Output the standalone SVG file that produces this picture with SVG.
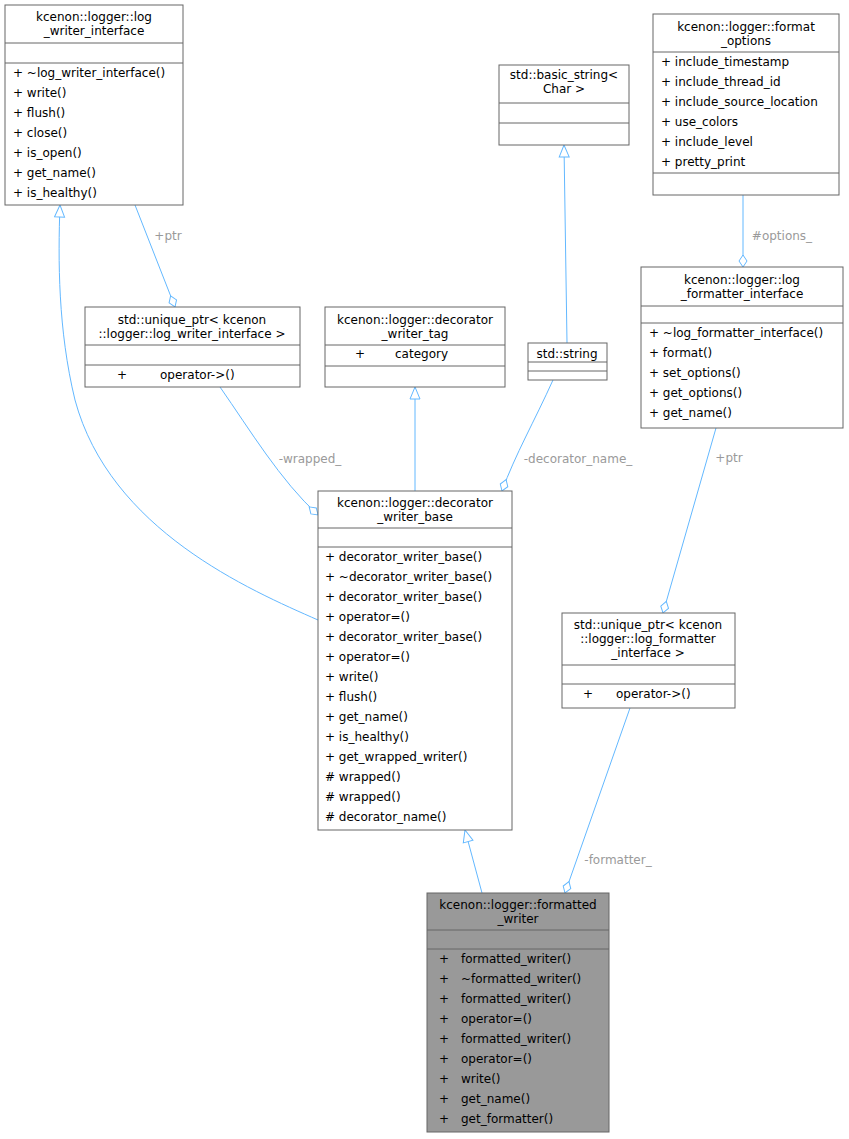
<svg xmlns="http://www.w3.org/2000/svg" width="849" height="1139" viewBox="0 0 849 1139">
<style>
text{font-family:"DejaVu Sans",sans-serif;font-size:12px;fill:#000}
.c{text-anchor:middle}
.lb{fill:#9a9a9a;text-anchor:middle}
.box{fill:#fff;stroke:#666;stroke-width:1}
.sep{stroke:#666;stroke-width:1}
.e{fill:none;stroke:#63b8ff;stroke-width:1}
</style>
<defs>
<marker id="tri" markerUnits="userSpaceOnUse" markerWidth="14" markerHeight="12" refX="13" refY="6" orient="auto"><path d="M1,1 L13,6 L1,11 Z" fill="#fff" stroke="#63b8ff"/></marker>
<marker id="dia" markerUnits="userSpaceOnUse" markerWidth="14" markerHeight="10" refX="13" refY="5" orient="auto"><path d="M1,5 L7,1 L13,5 L7,9 Z" fill="#fff" stroke="#63b8ff"/></marker>
</defs>
<rect width="849" height="1139" fill="#fff"/>
<g id="edges">
<path class="e" d="M318,620 C250,590 110,530 75,400 C58,330 58,260 60,205" marker-end="url(#tri)"/>
<path class="e" d="M135,205 L175,307" marker-end="url(#dia)"/><text class="lb" x="168" y="240">+ptr</text>
<path class="e" d="M415,491 L415,387" marker-end="url(#tri)"/>
<path class="e" d="M567,343 L564,145" marker-end="url(#tri)"/>
<path class="e" d="M743,195 L743,267" marker-end="url(#dia)"/><text class="lb" x="782" y="240">#options_</text>
<path class="e" d="M220,387 C250,430 280,480 318,515" marker-end="url(#dia)"/><text class="lb" x="310" y="463">-wrapped_</text>
<path class="e" d="M553,380 C535,420 515,455 502,491" marker-end="url(#dia)"/><text class="lb" x="578" y="463">-decorator_name_</text>
<path class="e" d="M716,428 L663,613" marker-end="url(#dia)"/><text class="lb" x="729" y="462">+ptr</text>
<path class="e" d="M630,708 L565,893" marker-end="url(#dia)"/><text class="lb" x="618" y="864">-formatter_</text>
<path class="e" d="M482,893 L465,830" marker-end="url(#tri)"/>
</g>
<g id="log_writer_interface">
<rect class="box" x="5" y="5" width="178" height="200"/>
<text class="c" x="94" y="21">kcenon::logger::log</text><text class="c" x="94" y="35">_writer_interface</text>
<line class="sep" x1="5" y1="43" x2="183" y2="43"/><line class="sep" x1="5" y1="63" x2="183" y2="63"/>
<text x="13" y="77">+  ~log_writer_interface()</text><text x="13" y="97">+  write()</text><text x="13" y="117">+  flush()</text><text x="13" y="137">+  close()</text><text x="13" y="157">+  is_open()</text><text x="13" y="177">+  get_name()</text><text x="13" y="197">+  is_healthy()</text>
</g>
<g id="basic_string">
<rect class="box" x="499" y="65" width="130" height="80"/>
<text class="c" x="564" y="79">std::basic_string&lt;</text><text class="c" x="564" y="93">Char &gt;</text>
<line class="sep" x1="499" y1="103" x2="629" y2="103"/><line class="sep" x1="499" y1="123" x2="629" y2="123"/>
</g>
<g id="format_options">
<rect class="box" x="653" y="14" width="186" height="181"/>
<text class="c" x="746" y="31">kcenon::logger::format</text><text class="c" x="746" y="45">_options</text>
<line class="sep" x1="653" y1="52" x2="839" y2="52"/>
<text x="661" y="66">+  include_timestamp</text><text x="661" y="86">+  include_thread_id</text><text x="661" y="106">+  include_source_location</text><text x="661" y="126">+  use_colors</text><text x="661" y="146">+  include_level</text><text x="661" y="166">+  pretty_print</text>
<line class="sep" x1="653" y1="173" x2="839" y2="173"/>
</g>
<g id="unique_ptr_writer">
<rect class="box" x="85" y="307" width="215" height="80"/>
<text class="c" x="192" y="324">std::unique_ptr&lt; kcenon</text><text class="c" x="192" y="338">::logger::log_writer_interface &gt;</text>
<line class="sep" x1="85" y1="345" x2="300" y2="345"/><line class="sep" x1="85" y1="365" x2="300" y2="365"/>
<text x="117" y="379">+</text><text x="160" y="379">operator-&gt;()</text>
</g>
<g id="decorator_writer_tag">
<rect class="box" x="325" y="307" width="180" height="80"/>
<text class="c" x="415" y="324">kcenon::logger::decorator</text><text class="c" x="415" y="338">_writer_tag</text>
<line class="sep" x1="325" y1="345" x2="505" y2="345"/>
<text x="355" y="358">+</text><text x="395" y="358">category</text>
<line class="sep" x1="325" y1="366" x2="505" y2="366"/>
</g>
<g id="std_string">
<rect class="box" x="528" y="343" width="79" height="37"/>
<text class="c" x="567" y="358">std::string</text>
<line class="sep" x1="528" y1="362" x2="607" y2="362"/><line class="sep" x1="528" y1="371" x2="607" y2="371"/>
</g>
<g id="log_formatter_interface">
<rect class="box" x="641" y="267" width="202" height="161"/>
<text class="c" x="742" y="284">kcenon::logger::log</text><text class="c" x="742" y="298">_formatter_interface</text>
<line class="sep" x1="641" y1="306" x2="843" y2="306"/><line class="sep" x1="641" y1="323" x2="843" y2="323"/>
<text x="649" y="337">+  ~log_formatter_interface()</text><text x="649" y="357">+  format()</text><text x="649" y="377">+  set_options()</text><text x="649" y="397">+  get_options()</text><text x="649" y="417">+  get_name()</text>
</g>
<g id="decorator_writer_base">
<rect class="box" x="318" y="491" width="194" height="339"/>
<text class="c" x="415" y="507">kcenon::logger::decorator</text><text class="c" x="415" y="521">_writer_base</text>
<line class="sep" x1="318" y1="528" x2="512" y2="528"/><line class="sep" x1="318" y1="547" x2="512" y2="547"/>
<text x="325" y="561">+  decorator_writer_base()</text><text x="325" y="581">+  ~decorator_writer_base()</text><text x="325" y="601">+  decorator_writer_base()</text><text x="325" y="621">+  operator=()</text><text x="325" y="641">+  decorator_writer_base()</text><text x="325" y="661">+  operator=()</text><text x="325" y="681">+  write()</text><text x="325" y="701">+  flush()</text><text x="325" y="721">+  get_name()</text><text x="325" y="741">+  is_healthy()</text><text x="325" y="761">+  get_wrapped_writer()</text><text x="325" y="781">#  wrapped()</text><text x="325" y="801">#  wrapped()</text><text x="325" y="821">#  decorator_name()</text>
</g>
<g id="unique_ptr_formatter">
<rect class="box" x="562" y="613" width="173" height="95"/>
<text class="c" x="648" y="629">std::unique_ptr&lt; kcenon</text><text class="c" x="648" y="643">::logger::log_formatter</text><text class="c" x="648" y="657">_interface &gt;</text>
<line class="sep" x1="562" y1="665" x2="735" y2="665"/><line class="sep" x1="562" y1="684" x2="735" y2="684"/>
<text x="583" y="698">+</text><text x="616" y="698">operator-&gt;()</text>
</g>
<g id="formatted_writer">
<rect x="427" y="893" width="182" height="239" fill="#999" stroke="#666"/>
<text class="c" x="518" y="909">kcenon::logger::formatted</text><text class="c" x="518" y="923">_writer</text>
<line class="sep" x1="427" y1="930" x2="609" y2="930"/><line class="sep" x1="427" y1="949" x2="609" y2="949"/>
<text x="439" y="963">+</text><text x="461" y="963">formatted_writer()</text>
<text x="439" y="983">+</text><text x="461" y="983">~formatted_writer()</text>
<text x="439" y="1003">+</text><text x="461" y="1003">formatted_writer()</text>
<text x="439" y="1023">+</text><text x="461" y="1023">operator=()</text>
<text x="439" y="1043">+</text><text x="461" y="1043">formatted_writer()</text>
<text x="439" y="1063">+</text><text x="461" y="1063">operator=()</text>
<text x="439" y="1083">+</text><text x="461" y="1083">write()</text>
<text x="439" y="1103">+</text><text x="461" y="1103">get_name()</text>
<text x="439" y="1123">+</text><text x="461" y="1123">get_formatter()</text>
</g>
</svg>
